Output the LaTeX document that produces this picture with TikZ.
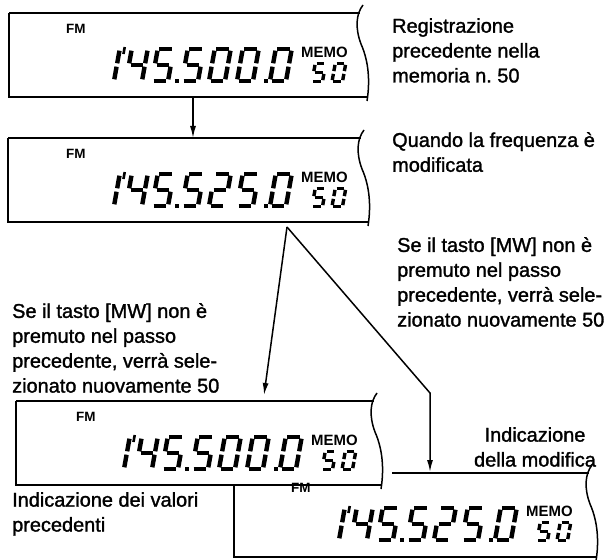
\documentclass[tikz,border=0pt]{standalone}
\usepackage{fontspec}
\setmainfont{Liberation Sans}
\newfontfamily\txtfont{Liberation Sans}[UprightFeatures={FakeBold=1.4}]
\usetikzlibrary{arrows.meta}
\tikzset{
  segl/.style={line width=4.4bp},
  frame/.style={line width=1.5bp},
  conn/.style={line width=1.5bp},
  arr/.style={conn,-{Latex[length=12bp,width=6bp]}},
  fmtext/.style={anchor=north west,inner sep=0pt,font=\fontsize{13.5}{15}\selectfont\bfseries},
  memotext/.style={anchor=north west,inner sep=0pt,font=\fontsize{15}{16}\selectfont\bfseries},
  txt/.style={anchor=north west,inner sep=0pt,align=left,font=\txtfont\fontsize{20}{25}\selectfont},
}
\def\dgzero{a,b,c,d,e,f}
\def\dgtwo{a,b,g,e,d}
\def\dgfour{f,g,b,c}
\def\dgfive{a,f,g,c,d}
\def\dgone{b,c}
\newcommand\lcdsega{\draw[segl] (\sg,-\dH) -- ({\dW-\sg},-\dH);}
\newcommand\lcdsegb{\draw[segl] (\dW,{-\dH+\sg}) -- (\dW,{-\dM-\sg});}
\newcommand\lcdsegc{\draw[segl] (\dW,{-\dM+\sg}) -- (\dW,-\sg);}
\newcommand\lcdsegd{\draw[segl] (\sg,0) -- ({\dW-\sg},0);}
\newcommand\lcdsege{\draw[segl] (0,{-\dM+\sg}) -- (0,-\sg);}
\newcommand\lcdsegf{\draw[segl] (0,{-\dH+\sg}) -- (0,{-\dM-\sg});}
\newcommand\lcdsegg{\draw[segl] (\sg,-\dM) -- ({\dW-\sg},-\dM);}
\newcommand\lcddigit[2]{\begin{scope}[shift={(#1,0)},xslant=0.18]\foreach \s in #2 {\csname lcdseg\s\endcsname}\end{scope}}
% #1 xshift, #2 yshift, #3 name, #4 #5 #6 digits
\newcommand\lcdcontent[6]{%
\begin{scope}[shift={(#1,#2)}]
  \node[fmtext] (#3fm) at (66,24) {FM};
  \node[memotext] (#3memo) at (301,47) {MEMO};
  \begin{scope}[shift={(0,81)}]
    \def\dW{16}\def\dH{32}\def\dM{16}\def\sg{1.7}
    \lcddigit{98}{\dgone}
    \begin{scope}[shift={(98,0)},xslant=0.18]
      \draw[line width=2.6bp] ({\dW+4.6},{-\dH-2}) -- ({\dW+4.6},{-\dH+5});
    \end{scope}
    \lcddigit{126}{\dgfour}
    \lcddigit{152}{\dgfive}
    \fill (174.6,-2.2) rectangle (179,2.2);
    \lcddigit{182}{#4}
    \lcddigit{209}{#5}
    \lcddigit{237}{#6}
    \fill (263.6,-2.2) rectangle (268,2.2);
    \lcddigit{270}{\dgzero}
  \end{scope}
  \begin{scope}[shift={(0,81.5)},segl/.style={line width=3.4bp}]
    \def\dW{10.5}\def\dH{18}\def\dM{9}\def\sg{1.4}
    \lcddigit{312}{\dgfive}
    \lcddigit{332}{\dgzero}
  \end{scope}
\end{scope}}
% #1 x0, #2 y0, #3 xr, #4 top line start x, #5 left edge start y
\newcommand\lcdframe[5]{%
  \draw[frame] (#4,#2) -- ({#3-3.5},#2);
  \draw[frame] (#1,#5) -- (#1,{#2+84}) -- ({#3+4},{#2+84});
  \draw[frame] (#3,{#2-8}) .. controls ({#3-7},{#2+1}) and ({#3-8},{#2+15}) .. ({#3-2},{#2+31})
     .. controls ({#3+6},{#2+49}) and ({#3+7},{#2+69}) .. ({#3+4},{#2+88});
}
\begin{document}
\begin{tikzpicture}[x=1bp,y=-1bp]
\useasboundingbox[fill=white] (0,0) rectangle (612,560);
% boxes
\lcdframe{9}{13}{363}{9}{13}
\lcdcontent{0}{0}{a}{\dgfive}{\dgzero}{\dgzero}
\lcdframe{8}{138}{364}{8}{138}
\lcdcontent{0}{125}{b}{\dgfive}{\dgtwo}{\dgfive}
\lcdframe{16}{401}{377}{16}{401}
\lcdcontent{10}{388}{c}{\dgfive}{\dgzero}{\dgzero}
\lcdframe{234}{473}{592}{392}{485}
\lcdcontent{225}{459}{d}{\dgfive}{\dgtwo}{\dgfive}
% connectors
\coordinate (b1s) at (193,97);
\coordinate (b2n) at (193,138);
\coordinate (apex) at (287,227);
\coordinate (b3n) at (264,395);
\coordinate (bend) at (430,393);
\coordinate (b4n) at (430,472);
\draw[arr] (b1s) -- (b2n);
\draw[arr] (apex) -- (b3n);
\draw[arr] (apex) -- (bend) -- (b4n);
% texts
\node[txt] (t1) at (392,18) {Registrazione\\precedente nella\\memoria n.\ 50};
\node[txt] (t2) at (392,132) {Quando la frequenza è\\modificata};
\node[txt] (t3) at (397,237) {Se il tasto [MW] non è\\premuto nel passo\\precedente, verrà sele-\\zionato nuovamente 50};
\node[txt] (t4) at (12,303) {Se il tasto [MW] non è\\premuto nel passo\\precedente, verrà sele-\\zionato nuovamente 50};
\node[txt,anchor=north,align=center] (t5) at (535,427) {Indicazione\\della modifica};
\node[txt] (t6) at (12,492) {Indicazione dei valori\\precedenti};
\end{tikzpicture}
\end{document}
